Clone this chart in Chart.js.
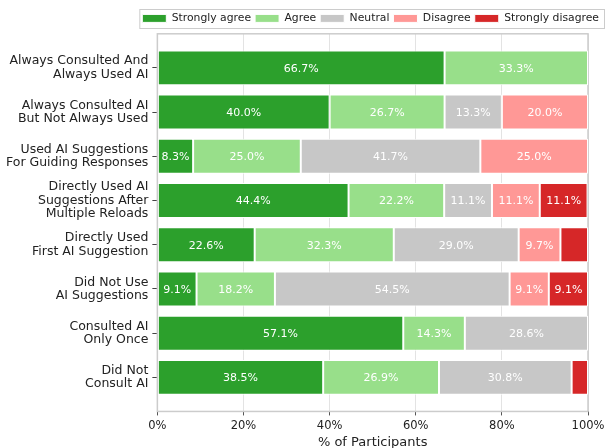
<!DOCTYPE html>
<html>
<head>
<meta charset="utf-8">
<script src="https://cdn.jsdelivr.net/npm/chart.js@4.4.0/dist/chart.umd.min.js"></script>
<style>
  html, body { margin: 0; padding: 0; background: #fff; }
  #wrap { width: 605px; height: 448px; position: relative; }
</style>
</head>
<body>
<div id="wrap"><canvas id="chart"></canvas></div>
<script>
// Categories (top to bottom)
const categories = [
    ['Always Consulted And', 'Always Used AI'],
    ['Always Consulted AI', 'But Not Always Used'],
    ['Used AI Suggestions', 'For Guiding Responses'],
    ['Directly Used AI', 'Suggestions After', 'Multiple Reloads'],
    ['Directly Used', 'First AI Suggestion'],
    ['Did Not Use', 'AI Suggestions'],
    ['Consulted AI', 'Only Once'],
    ['Did Not', 'Consult AI']
];

// Percent of participants per response
const stronglyAgree    = [66.7, 40.0,  8.3, 44.4, 22.6,  9.1, 57.1, 38.5];
const agree            = [33.3, 26.7, 25.0, 22.2, 32.3, 18.2, 14.3, 26.9];
const neutral          = [ 0.0, 13.3, 41.7, 11.1, 29.0, 54.5, 28.6, 30.8];
const disagree         = [ 0.0, 20.0, 25.0, 11.1,  9.7,  9.1,  0.0,  0.0];
const stronglyDisagree = [ 0.0,  0.0,  0.0, 11.1,  6.4,  9.1,  0.0,  3.8];

const xTicks = [0, 20, 40, 60, 80, 100];

const FONT = '"DejaVu Sans", sans-serif';

// draw value labels inside the bar segments
const segmentLabels = {
    id: 'segmentLabels',
    afterDatasetsDraw(chart) {
        const ctx = chart.ctx;
        ctx.save();
        ctx.font = '11px ' + FONT;
        ctx.fillStyle = '#ffffff';
        ctx.textAlign = 'center';
        ctx.textBaseline = 'middle';
        chart.data.datasets.forEach(function(ds, i) {
            const meta = chart.getDatasetMeta(i);
            meta.data.forEach(function(bar, j) {
                const v = ds.data[j].x;
                if (v < 8) return;
                const x = (bar.x + bar.base) / 2;
                ctx.fillText(v.toFixed(1) + '%', x, bar.y + 1);
            });
        });
        ctx.restore();
    }
};

// frame around the plot area and around the legend
const frames = {
    id: 'frames',
    beforeDatasetsDraw(chart) {
        const a = chart.chartArea;
        const ctx = chart.ctx;
        ctx.save();
        ctx.strokeStyle = '#cccccc';
        ctx.lineWidth = 1.5;
        ctx.strokeRect(a.left, a.top, a.right - a.left, a.bottom - a.top);
        ctx.restore();
    },
    afterDraw(chart) {
        const lg = chart.legend;
        const ctx = chart.ctx;
        ctx.save();
        ctx.strokeStyle = '#cccccc';
        ctx.lineWidth = 1;
        const l = lg.legendHitBoxes[0].left - 3;
        const r = lg.legendHitBoxes[4].left + lg.legendHitBoxes[4].width + 5;
        ctx.strokeRect(l + 0.5, 9.5, r - l, 19);
        ctx.restore();
    }
};

const ds = function(label, data, color) {
    return {
        label: label,
        data: data.map((v, i) => ({ x: v, y: i })),
        backgroundColor: color,
        borderColor: '#ffffff',
        borderWidth: 1,
        borderSkipped: false,
        barPercentage: 0.79,
        categoryPercentage: 1.0
    };
};

new Chart(document.getElementById('chart'), {
    type: 'bar',
    data: {
        datasets: [
            ds('Strongly agree', stronglyAgree, '#2ca02c'),
            ds('Agree', agree, '#98df8a'),
            ds('Neutral', neutral, '#c7c7c7'),
            ds('Disagree', disagree, '#ff9896'),
            ds('Strongly disagree', stronglyDisagree, '#d62728')
        ]
    },
    options: {
        indexAxis: 'y',
        responsive: true,
        maintainAspectRatio: false,
        animation: false,
        layout: { padding: { left: 2, right: 2, top: 9, bottom: 0 } },
        plugins: {
            legend: {
                position: 'top',
                align: 'end',
                labels: {
                    boxWidth: 24,
                    boxHeight: 8,
                    padding: 4,
                    color: '#222',
                    font: { family: FONT, size: 10.8 }
                }
            },
            tooltip: { enabled: false }
        },
        scales: {
            x: {
                stacked: true,
                min: 0,
                max: 100,
                afterBuildTicks: function(axis) {
                    axis.ticks = xTicks.map(v => ({ value: v }));
                },
                afterFit: function(axis) {
                    axis.paddingRight = 17;
                },
                ticks: {
                    callback: v => v + '%',
                    color: '#222',
                    padding: 5,
                    font: { family: FONT, size: 11.5, lineHeight: 1.0 }
                },
                grid: { color: '#e3e3e3', tickColor: '#555', tickLength: 4, lineWidth: 1 },
                border: { display: false },
                title: {
                    display: true,
                    text: '% of Participants',
                    color: '#222',
                    padding: { top: 0, bottom: 0 },
                    font: { family: FONT, size: 13, lineHeight: 0.85 }
                }
            },
            y: {
                type: 'linear',
                stacked: true,
                reverse: true,
                offset: false,
                min: -0.77,
                max: 7.77,
                afterBuildTicks: function(axis) {
                    axis.ticks = categories.map((c, i) => ({ value: i }));
                },
                ticks: {
                    callback: v => categories[v],
                    color: '#222',
                    padding: 4,
                    font: { family: FONT, size: 12.5, lineHeight: 1.07 }
                },
                grid: { offset: false, drawOnChartArea: false, color: '#444', tickLength: 5 },
                border: { display: false }
            }
        }
    },
    plugins: [segmentLabels, frames]
});
</script>
</body>
</html>
